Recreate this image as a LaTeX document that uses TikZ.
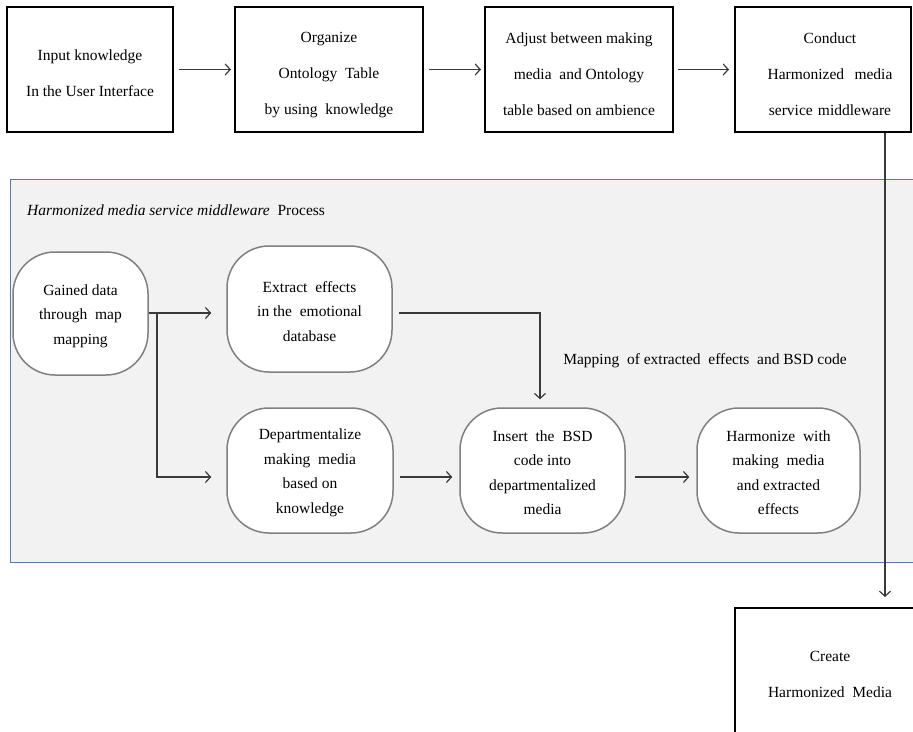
\documentclass[tikz,border=0pt]{standalone}
\usepackage{fontspec}
\setmainfont{Liberation Serif}
\usetikzlibrary{arrows.meta,calc}
\definecolor{panelfill}{HTML}{F2F2F2}
\definecolor{panelline}{HTML}{5A78A6}
\definecolor{arrowc}{HTML}{3A3A3A}
\definecolor{roundline}{HTML}{808080}
\newcommand\downstrut[1]{\rule{0pt}{#1}}
\tikzset{
  topbox/.style={draw=black, line width=2pt, fill=white, inner sep=0pt, align=center,
    font=\fontsize{15.5}{36}\selectfont},
  roundbox/.style={draw=roundline, line width=1.5pt, fill=white, rounded corners=42pt,
    inner sep=0pt, align=center, font=\fontsize{15.5}{24.5}\selectfont},
  arr/.style={draw=arrowc, line width=1.2pt, -{Straight Barb[length=5pt,width=11pt,line width=1.2pt]}},
  txt/.style={inner sep=0pt, font=\fontsize{15.5}{24.5}\selectfont}
}
\begin{document}
\begin{tikzpicture}[x=1pt,y=-1pt]
\useasboundingbox (0,0) rectangle (913,731);
\clip (0,0) rectangle (913,731);
\fill[white] (0,0) rectangle (913,731);
% panel
\fill[panelfill] (10,179) rectangle (920,562);
\draw[panelline, line width=1pt] (920,179) -- (10,179) -- (10,562) -- (920,562);
\node[txt, anchor=west] (title) at (27,210) {\textit{Harmonized media service middleware}\ \ Process};

% top boxes
\node[topbox, minimum width=166pt, minimum height=125pt] (b1) at (90,69.5) {\downstrut{19pt}Input knowledge\\In the User Interface};
\node[topbox, minimum width=188pt, minimum height=125pt] (b2) at (329,69.5) {\downstrut{21pt}Organize\\Ontology\ \ Table\\by using\ \ knowledge};
\node[topbox, minimum width=188pt, minimum height=125pt] (b3) at (579,69.5) {\downstrut{21pt}Adjust between making\\media\ \ and Ontology\\table based on ambience};
\node[topbox, minimum width=176pt, minimum height=125pt, text width=176pt] (b4) at (823,69.5) {\downstrut{21pt}\hspace*{14pt}Conduct\\\hspace*{14pt}Harmonized\ \ media\\\hspace*{14pt}service middleware};

\draw[arr, shorten <=5pt, shorten >=3pt] (b1) -- (b2);
\draw[arr, shorten <=5pt, shorten >=3pt] (b2) -- (b3);
\draw[arr, shorten <=4pt, shorten >=5pt] (b3) -- (b4);

% create box
\node[topbox, minimum width=190pt, minimum height=133pt] (create) at (830,674.5) {Create\\Harmonized\ \ Media};

% rounded nodes
\node[roundbox, minimum width=135pt, minimum height=123pt] (gained) at (80.5,313.5) {\downstrut{16pt}Gained data\\through\ \ map\\mapping};
\node[roundbox, minimum width=165pt, minimum height=126pt] (extract) at (309.5,309) {\downstrut{16pt}Extract\ \ effects\\in the\ \ emotional\\database};
\node[roundbox, minimum width=166pt, minimum height=125pt] (depart) at (310,470.5) {\downstrut{15pt}Departmentalize\\making\ \ media\\based on\\knowledge};
\node[roundbox, minimum width=165pt, minimum height=125pt] (insert) at (542.5,470.5) {\downstrut{15pt}Insert\ \ the\ \ BSD\\code into\\departmentalized\\media};
\node[roundbox, minimum width=163pt, minimum height=125pt] (harm) at (778.5,470.5) {\downstrut{15pt}Harmonize\ \ with\\making\ \ media\\and extracted\\effects};

\node[txt] (maplabel) at (705,361) {Mapping\ \ of extracted\ \ effects\ \ and BSD code};

% connectors inside panel
\coordinate (br) at (157,313);
\coordinate (lowrow) at (0,477);
\coordinate (mx) at (540,313);
\draw[arr, shorten >=15pt] (gained.east |- br) -- (extract.west |- br);
\draw[arr, shorten >=15pt] (br) |- (lowrow -| depart.west);
\draw[arr, shorten <=6pt, shorten >=8pt] (extract.east |- mx) -- (mx) -- (mx |- insert.north);
\draw[arr, shorten <=6pt, shorten >=7pt] (depart.east |- lowrow) -- (insert.west |- lowrow);
\draw[arr, shorten <=9pt, shorten >=7pt] (insert.east |- lowrow) -- (harm.west |- lowrow);

% long vertical connector
\coordinate (vx) at (885,0);
\draw[arr, shorten >=10pt] (b4.south -| vx) -- (create.north -| vx);
\end{tikzpicture}
\end{document}
